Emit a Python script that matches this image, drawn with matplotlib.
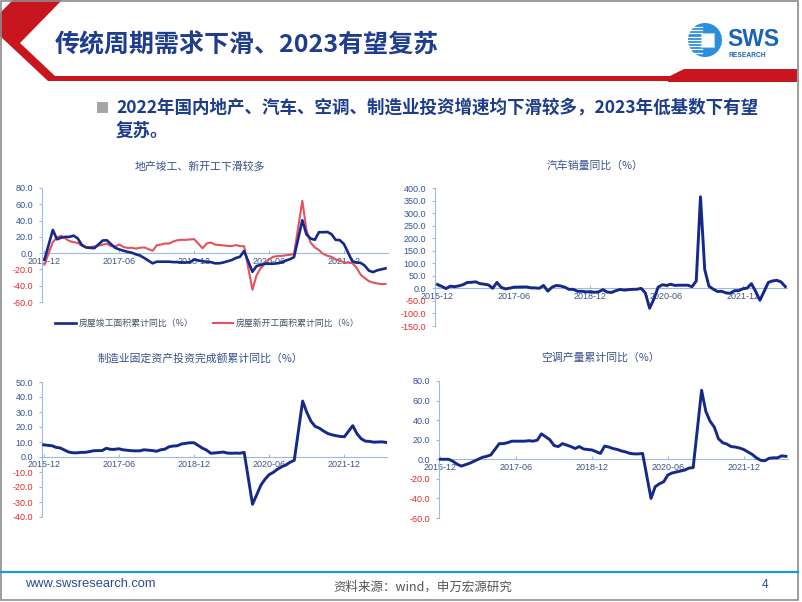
import matplotlib
matplotlib.use('Agg')
import matplotlib.pyplot as plt
from matplotlib.patches import Polygon, Rectangle, Circle
from matplotlib.lines import Line2D
import numpy as np

plt.rcParams['font.family'] = ['Liberation Sans', 'Noto Sans CJK SC', 'DejaVu Sans']
CJK = ['Noto Sans CJK SC', 'DejaVu Sans']

# 月份：累计数据无1月，汽车销量为单月数据
months_cum = ['2015-12'] + [f'{y}-{m:02d}' for y in range(2016, 2022) for m in range(2, 13)] \
    + [f'2022-{m:02d}' for m in range(2, 11)]
months_all = ['2015-12'] + [f'{y}-{m:02d}' for y in range(2016, 2022) for m in range(1, 13)] \
    + [f'2022-{m:02d}' for m in range(1, 11)]
xtick_labels = ['2015-12', '2017-06', '2018-12', '2020-06', '2021-12']

# 房屋竣工面积累计同比（%）
completion = [-8,
              28.5, 17, 19, 20, 20, 21.5, 18, 10, 7, 6.5, 6.1,
              15.5, 15.8, 11, 6.5, 4.5, 3, 1.5, 0.5, -1.5, -3, -6,
              -12.5, -10.5, -10.5, -10.5, -10.5, -11, -11, -11.5, -11.5, -11, -7.8,
              -10, -10.5, -11, -12.5, -12.5, -11.5, -10, -8.5, -6, -4.5, 2.6,
              -22.9, -15.8, -14.5, -13, -13, -13, -12.5, -11.5, -9.2, -7.5, -4.9,
              40.4, 22.9, 17.9, 16.4, 25.7, 25.7, 26.0, 23.4, 16.3, 16.0, 11.2,
              -9.9, -11.5, -11.9, -15.3, -21.5, -23.3, -21.1, -19.9, -18.7]
# 房屋新开工面积累计同比（%）
new_starts = [-14,
              13.7, 19.2, 21.4, 18.0, 14.9, 13.5, 12.5, 9, 7, 7.5, 8.1,
              10.4, 11.6, 8.5, 8.4, 10.6, 7.5, 6.5, 6.5, 5.6, 6.6, 7.0,
              2.9, 9.7, 10.5, 11.8, 11.8, 14.4, 15.9, 16.4, 16.3, 16.8, 17.2,
              6.0, 11.9, 13.1, 10.5, 10.1, 9.5, 8.9, 8.6, 10.0, 8.6, 8.5,
              -44.9, -27.2, -18.4, -12.8, -7.6, -4.5, -3.6, -3.4, -2.7, -2.0, -1.2,
              64.3, 28.2, 12.8, 6.9, 3.8, -0.9, -3.2, -4.5, -7.7, -9.1, -11.4,
              -12.2, -17.5, -26.3, -30.6, -34.4, -36.1, -37.2, -38.0, -37.8]
# 汽车销量同比（%）
car_sales = [15.4,
             7.8, -0.8, 8.8, 6.6, 9.8, 14.6, 23.4, 24.2, 26.0, 18.8, 16.6, 13.8,
             0.2, 23.8, 4.0, -2.2, 0.7, 4.5, 5.1, 5.3, 5.7, 2.2, 1.8, 0.3,
             11.6, -11.1, 4.7, 11.5, 9.6, 4.8, -4.0, -3.8, -11.6, -11.7, -13.9, -13.0,
             -15.8, -13.8, -5.2, -14.6, -16.4, -9.6, -4.3, -6.9, -5.2, -4.0, -3.6, 0.1,
             -18.0, -79.1, -43.3, 4.4, 14.5, 11.6, 16.4, 11.6, 12.8, 12.5, 12.6, 6.4,
             29.5, 364.9, 74.9, 8.6, -3.1, -12.4, -11.9, -17.8, -19.6, -9.4, -9.1, -1.6,
             0.9, 18.7, -11.7, -47.6, -12.6, 23.8, 29.7, 32.1, 25.7, 6.9]
# 制造业固定资产投资完成额累计同比（%）
mfg_fai = [8.1,
           7.5, 6.4, 6.0, 4.6, 3.3, 2.8, 2.8, 3.1, 3.1, 3.6, 4.2,
           4.3, 5.8, 5.1, 5.1, 5.5, 4.8, 4.5, 4.2, 4.1, 4.1, 4.8,
           4.3, 3.8, 4.8, 5.2, 6.8, 7.3, 7.5, 8.7, 9.1, 9.5, 9.5,
           5.9, 4.6, 2.5, 2.7, 3.0, 3.3, 2.6, 2.5, 2.6, 2.5, 3.1,
           -31.5, -25.2, -18.8, -14.8, -11.7, -10.2, -8.1, -6.5, -5.3, -3.5, -2.2,
           37.3, 29.8, 23.8, 20.4, 19.2, 17.3, 15.7, 14.8, 14.2, 13.7, 13.5,
           20.9, 15.6, 12.2, 10.6, 10.4, 9.9, 10.0, 10.1, 9.7]
# 空调产量累计同比（%）
ac_output = [0,
             0, -2, -5, -7, -5.5, -4, -2, 0, 2, 3, 4.5,
             16, 16, 17, 18.5, 18.5, 18.5, 18.5, 19, 18.5, 19.5, 26,
             20, 14, 13, 16, 14.5, 13, 11, 13, 10.5, 10, 9.5,
             6, 13.5, 12.5, 11, 10, 8.5, 7.5, 6, 5.5, 5.5, 6,
             -40, -28, -25, -23, -16, -14, -13, -12, -11, -9, -8.5,
             70.5, 49, 39, 33, 21, 17, 15.5, 13, 12.5, 11.5, 10,
             5, 1.5, -1, -1.5, 1, 1.5, 1.5, 3.5, 3]

W, H = 802, 602
BLUE = '#14298a'
RED = '#e4525b'
AXIS = '#9dbbe0'
TXT = '#35528f'


def fx(x):
    return x / W


def fy(y):
    return 1 - y / H


def rect(l, t, r, b):
    return [l / W, 1 - b / H, (r - l) / W, (b - t) / H]


def month_idx(s):
    y, m = s.split('-')
    return (int(y) - 2015) * 12 + int(m) - 12


fig = plt.figure(figsize=(W / 100, H / 100), dpi=100)

# 页眉红色装饰
chevron = [(13, 0), (62, 0), (20, 43), (55, 76), (797, 76), (797, 81), (48, 81), (0, 36), (0, 13)]
fig.add_artist(Polygon([(fx(x), fy(y)) for x, y in chevron], closed=True,
                       transform=fig.transFigure, color='#c9161e', lw=0))
band = [(668, 77), (684, 69), (797, 69), (797, 82), (668, 82)]
fig.add_artist(Polygon([(fx(x), fy(y)) for x, y in band], closed=True,
                       transform=fig.transFigure, color='#c9161e', lw=0))

# logo
axl = fig.add_axes(rect(685, 18, 792, 62))
axl.set_xlim(685, 792)
axl.set_ylim(62, 18)
axl.axis('off')
axl.add_patch(Circle((705, 40), 17, color='#2b8fdb', lw=0))
for yy in np.arange(27, 55, 3.2):
    axl.plot([688, 702], [yy, yy], color='white', lw=0.9)
axl.add_patch(Rectangle((701, 33), 13, 14, facecolor='white', edgecolor='#9fd2f5', lw=0.8))
axl.text(727, 45.5, 'SWS', fontsize=16.5, fontweight='bold', color='#1b63b5', va='baseline', ha='left')
axl.text(728.5, 57, 'RESEARCH', fontsize=4.8, fontweight='bold', color='#1b63b5', va='baseline', ha='left')

# 标题
fig.text(fx(55), fy(45), '传统周期需求下滑、2023有望复苏', fontsize=18, color='#1f3d8f',
         va='center', ha='left', family=CJK, fontweight='bold')

# 要点
fig.add_artist(Rectangle((fx(97), fy(113)), 11 / W, 11 / H, transform=fig.transFigure,
                         color='#a6a6a6', lw=0))
fig.text(fx(116), fy(108), '2022年国内地产、汽车、空调、制造业投资增速均下滑较多，2023年低基数下有望',
         fontsize=12.6, fontweight='bold', color='#1c3c8c', va='center', ha='left', family=CJK)
fig.text(fx(116), fy(131), '复苏。', fontsize=12.6, fontweight='bold', color='#1c3c8c',
         va='center', ha='left', family=CJK)


def draw_panel(box, months, series, yticks, xlim, title, title_xy):
    ax = fig.add_axes(rect(*box))
    x = [month_idx(m) for m in months]
    for vals, color, lw in series:
        ax.plot(x, vals, color=color, lw=lw, solid_joinstyle='round', zorder=3)
    ax.set_xlim(*xlim)
    ax.set_ylim(yticks[0], yticks[-1])
    ax.set_yticks(yticks)
    ax.set_yticklabels([f'{v:.1f}' for v in yticks])
    for lab, v in zip(ax.get_yticklabels(), yticks):
        lab.set_color('#e8262c' if v < 0 else '#33539c')
    ax.set_xticks([month_idx(s) for s in xtick_labels])
    ax.set_xticklabels(xtick_labels)
    ax.spines['top'].set_visible(False)
    ax.spines['right'].set_visible(False)
    ax.spines['left'].set_color(AXIS)
    ax.spines['bottom'].set_color(AXIS)
    ax.spines['bottom'].set_position(('data', 0))
    ax.tick_params(axis='y', direction='out', length=2.2, width=0.8, color=AXIS,
                   pad=4.2, labelsize=6.5)
    ax.tick_params(axis='x', direction='in', length=2.2, width=0.8, color=AXIS,
                   pad=2.5, labelsize=6.5, labelcolor='#3b5487')
    ax.patch.set_alpha(0)
    fig.text(fx(title_xy[0]), fy(title_xy[1]), title, fontsize=7.8, color=TXT,
             ha='center', va='center', family=CJK)
    return ax


draw_panel((42, 188, 388, 302), months_cum,
           [(new_starts, RED, 1.5), (completion, BLUE, 1.9)],
           np.arange(-60, 81, 20), (-0.6, 82.6), '地产竣工、新开工下滑较多', (200, 166))
draw_panel((435, 188, 787, 326), months_all,
           [(car_sales, BLUE, 2.1)],
           np.arange(-150, 401, 50), (-0.6, 82.4), '汽车销量同比（%）', (595, 166))
draw_panel((42, 382, 387, 517), months_cum,
           [(mfg_fai, BLUE, 2.1)],
           np.arange(-40, 51, 10), (-0.4, 82.2), '制造业固定资产投资完成额累计同比（%）', (200, 358))
draw_panel((439, 381, 788, 518), months_cum,
           [(ac_output, BLUE, 2.1)],
           np.arange(-60, 81, 20), (-0.3, 82.5), '空调产量累计同比（%）', (600, 358))

# 图例
fig.add_artist(Line2D([fx(55), fx(76)], [fy(323), fy(323)], color=BLUE, lw=1.9))
fig.text(fx(79), fy(323), '房屋竣工面积累计同比（%）', fontsize=6.4, color='#44546a',
         va='center', ha='left', family=CJK)
fig.add_artist(Line2D([fx(213), fx(233)], [fy(323), fy(323)], color=RED, lw=1.5))
fig.text(fx(236), fy(323), '房屋新开工面积累计同比（%）', fontsize=6.4, color='#44546a',
         va='center', ha='left', family=CJK)

# 页脚
fig.add_artist(Line2D([fx(1), fx(798)], [fy(572), fy(572)], color='#1f9bd0', lw=1.6))
fig.text(fx(25), fy(584), 'www.swsresearch.com', fontsize=9.3, color='#2b4a9b', va='center', ha='left')
fig.text(fx(423), fy(587), '资料来源：wind，申万宏源研究', fontsize=9, color='#555555',
         va='center', ha='center', family=CJK)
fig.text(fx(765), fy(585), '4', fontsize=8.5, color='#2b4a9b', va='center', ha='center')

# 幻灯片边框
fig.add_artist(Rectangle((fx(1), fy(600)), 797 / W, 599.5 / H, transform=fig.transFigure,
                         fill=False, edgecolor='#8c8c8c', lw=1.2))

fig.savefig('out.png', dpi=100)
